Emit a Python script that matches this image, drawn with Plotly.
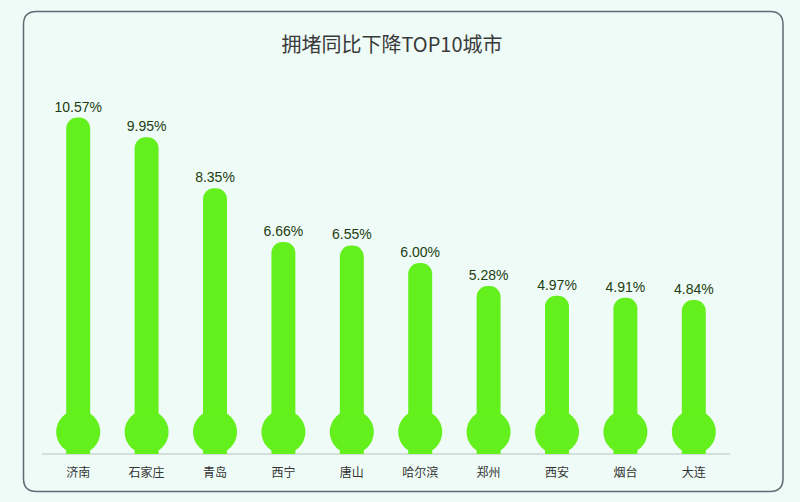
import plotly.graph_objects as go

cities = ["济南", "石家庄", "青岛", "西宁", "唐山", "哈尔滨", "郑州", "西安", "烟台", "大连"]
values = [10.57, 9.95, 8.35, 6.66, 6.55, 6.00, 5.28, 4.97, 4.91, 4.84]
labels = ["10.57%", "9.95%", "8.35%", "6.66%", "6.55%", "6.00%", "5.28%", "4.97%", "4.91%", "4.84%"]
title_text = "拥堵同比下降TOP10城市"

GREEN = "#64f01c"
BG = "#eefbf6"
W, H = 800, 502
ml, mr, mt, mb = 44, 72, 72, 48
pw, ph = W - ml - mr, H - mt - mb

fig = go.Figure()
fig.add_trace(go.Bar(
    x=list(range(len(cities))), y=values, text=labels, textposition="outside",
    constraintext="none",
    textfont=dict(size=14, color="#1d3d12", family="Liberation Sans, Arial"),
    marker=dict(color=GREEN, cornerradius="50%", line=dict(width=0)),
    width=0.35, cliponaxis=False, hoverinfo="skip",
))

shapes = []
# bulbs of thermometers
for i in range(len(cities)):
    shapes.append(dict(type="circle", xref="x", yref="y", xsizemode="pixel", ysizemode="pixel",
                       xanchor=i, yanchor=0, x0=-22, x1=22, y0=0, y1=44,
                       fillcolor=GREEN, line=dict(width=0), layer="above"))

# baseline
shapes.append(dict(type="line", xref="paper", yref="paper", x0=-0.003, x1=1.003, y0=0, y1=0,
                   line=dict(color="#b9c4c4", width=1), layer="below"))

# rounded border box (paper coordinates)
def px(x):
    return (x - ml) / pw

def py(y):
    return (H - mb - y) / ph

L, R, T, B, r = 23.5, 783, 11.5, 491.5, 13
path = (f"M {px(L+r)},{py(T)} L {px(R-r)},{py(T)} Q {px(R)},{py(T)} {px(R)},{py(T+r)} "
        f"L {px(R)},{py(B-r)} Q {px(R)},{py(B)} {px(R-r)},{py(B)} "
        f"L {px(L+r)},{py(B)} Q {px(L)},{py(B)} {px(L)},{py(B-r)} "
        f"L {px(L)},{py(T+r)} Q {px(L)},{py(T)} {px(L+r)},{py(T)} Z")
shapes.append(dict(type="path", xref="paper", yref="paper", path=path,
                   line=dict(color="#5d6b72", width=1.5), layer="below"))

fig.update_layout(
    width=W, height=H, margin=dict(l=ml, r=mr, t=mt, b=mb),
    paper_bgcolor=BG, plot_bgcolor=BG,
    showlegend=False, bargap=0.65,
    shapes=shapes,
    title=dict(text=title_text, x=392 / W, xanchor="center", y=1 - 45 / H, yanchor="middle",
               font=dict(size=20, color="#3a3a3a", family="Noto Sans CJK SC")),
    xaxis=dict(tickmode="array", tickvals=list(range(len(cities))), ticktext=cities,
               range=[-0.5, len(cities) - 0.5], showgrid=False, zeroline=False, showline=False,
               ticks="", ticklabelstandoff=10,
               tickfont=dict(size=12, color="#333333", family="Noto Sans CJK SC")),
    yaxis=dict(range=[0, 12], visible=False, showgrid=False, zeroline=False),
    font=dict(family="Noto Sans CJK SC"),
)

fig.write_html("out.html")
